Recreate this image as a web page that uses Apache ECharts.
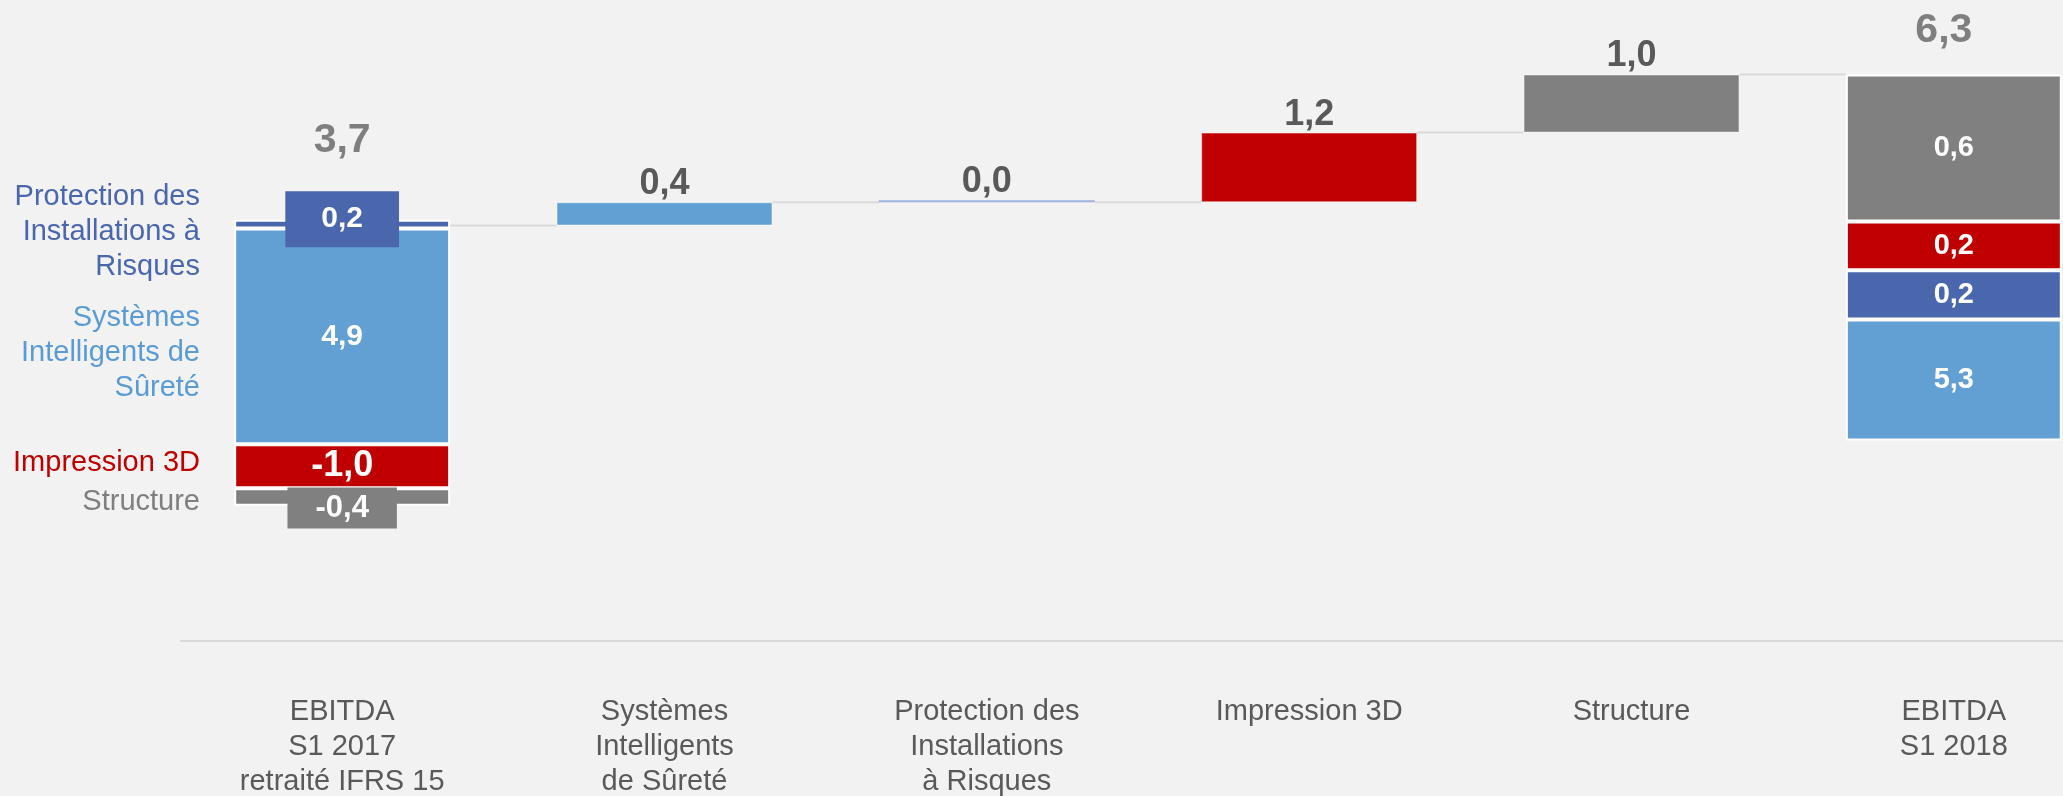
<!DOCTYPE html>
<html>
<head>
<meta charset="utf-8">
<script src="https://cdn.jsdelivr.net/npm/echarts@6/dist/echarts.min.js"></script>
<style>
html, body { margin: 0; padding: 0; background: #f2f2f2; }
#chart { width: 2063px; height: 796px; }
</style>
</head>
<body>
<div id="chart"></div>
<script>
'use strict';

// catégories de l'axe horizontal
const categories = [
    'EBITDA\nS1 2017\nretraité IFRS 15',
    'Systèmes\nIntelligents\nde Sûreté',
    'Protection des\nInstallations\nà Risques',
    'Impression 3D',
    'Structure',
    'EBITDA\nS1 2018'
];

// métiers, dans l'ordre d'empilement (bas -> haut)
const segments = ['Systèmes Intelligents de Sûreté', 'Protection des Installations à Risques', 'Impression 3D', 'Structure'];
const segmentColors = ['#629fd3', '#4a66ad', '#c00000', '#808080'];
const sideLabels = ['Systèmes\nIntelligents de\nSûreté', 'Protection des\nInstallations à\nRisques', 'Impression 3D', 'Structure'];
const sideColors = ['#5b9bd5', '#4a66ad', '#c00000', '#7f7f7f'];

// EBITDA S1 2017 retraité : contribution de chaque métier
const startValues = [4.9, 0.2, -1.0, -0.4];

// variations du pont (SIS, PIR, Impression 3D, Structure)
const deltaValues = [0.4, 0.0, 1.2, 1.0];

// EBITDA S1 2018 : valeurs affichées, et hauteur dessinée (le visuel n'est pas à l'échelle)
const endValues = [5.3, 0.2, 0.2, 0.6];
const endDrawn = [2.08, 0.85, 0.84, 2.53];

const FONT = '"Liberation Sans", Arial, sans-serif';
const fmt = v => (Math.round(v * 10) / 10).toFixed(1).replace('.', ',');
const onlyAt = (index, value) => categories.map((c, i) => i === index ? value : '-');

const startTotal = startValues.reduce((a, b) => a + b, 0);
// niveaux successifs du pont : 3,7 -> 4,1 -> 4,1 -> 5,3 -> 6,3
const levels = deltaValues.reduce((pre, d) => {
    pre.push(pre[pre.length - 1] + d);
    return pre;
}, [startTotal]);
const endTotal = levels[levels.length - 1];

const BAR_W = 0.67;

// styles des étiquettes de la première barre
const startLabelStyles = [
    { fontSize: 30 },
    { fontSize: 30, backgroundColor: '#4a66ad', padding: [13, 36], offset: [0, -5] },
    { fontSize: 36 },
    { fontSize: 31, backgroundColor: '#808080', padding: [5, 28], offset: [0, 11] }
];

const startSeries = segments.map((name, k) => ({
    name: name,
    type: 'bar',
    yAxisIndex: 1,
    stack: 'start',
    barWidth: BAR_W * 100 + '%',
    barGap: '-100%',
    z: (k === 1 || k === 3) ? 4 : 3,
    data: onlyAt(0, startValues[k]),
    itemStyle: { color: segmentColors[k], borderColor: '#ffffff', borderWidth: 2 },
    label: Object.assign({
        show: true,
        position: 'inside',
        color: '#ffffff',
        fontWeight: 'bold',
        fontFamily: FONT,
        formatter: p => fmt(p.value)
    }, startLabelStyles[k])
}));

const endSeries = segments.map((name, k) => ({
    name: name,
    type: 'bar',
    stack: 'end',
    barWidth: BAR_W * 100 + '%',
    barGap: '-100%',
    z: 3,
    data: onlyAt(5, { value: endDrawn[k], shown: endValues[k] }),
    itemStyle: { color: segmentColors[k], borderColor: '#ffffff', borderWidth: 2 },
    label: {
        show: true,
        position: 'inside',
        color: '#ffffff',
        fontWeight: 'bold',
        fontSize: 29,
        fontFamily: FONT,
        formatter: p => fmt(p.data.shown)
    }
}));

const deltaColors = [segmentColors[0], '#9fb3de', segmentColors[2], segmentColors[3]];

const option = {
    backgroundColor: '#f2f2f2',
    animation: false,
    textStyle: { fontFamily: FONT },
    grid: { left: 181, right: -52, top: 0, bottom: 155, containLabel: false, outerBoundsMode: 'none' },
    xAxis: {
        type: 'category',
        data: categories,
        axisLine: { onZero: false, lineStyle: { color: '#d9d9d9', width: 2 } },
        axisTick: { show: false },
        axisLabel: { interval: 0, margin: 53, color: '#595959', fontSize: 29, lineHeight: 35, fontFamily: FONT }
    },
    yAxis: [
        { type: 'value', show: false, min: -3.454, max: 7.583 },
        { type: 'value', show: false, min: -4.473, max: 10.095 }
    ],
    graphic: sideLabels.map((text, k) => ({
        type: 'text',
        x: 200,
        y: [353, 232, 463, 502][k],
        style: {
            text: text,
            fill: sideColors[k],
            font: '29px ' + FONT,
            align: 'right',
            verticalAlign: 'middle',
            lineHeight: 35
        }
    })),
    series: [
        {
            type: 'custom',
            z: 1,
            silent: true,
            data: levels.map((lvl, i) => [i, lvl]),
            encode: { x: 0, y: 1 },
            renderItem: (params, api) => {
                const i = api.value(0);
                const lvl = api.value(1);
                const p0 = api.coord([i, lvl]);
                const p1 = api.coord([i + 1, lvl]);
                const half = api.size([1, 0])[0] * BAR_W / 2;
                return {
                    type: 'line',
                    shape: { x1: p0[0] + half, y1: p0[1], x2: p1[0] - half, y2: p1[1] },
                    style: { stroke: '#d9d9d9', lineWidth: 2 }
                };
            }
        },
        {
            name: 'base',
            type: 'bar',
            stack: 'bridge',
            barWidth: BAR_W * 100 + '%',
            barGap: '-100%',
            silent: true,
            itemStyle: { color: 'transparent' },
            data: ['-'].concat(levels.slice(0, deltaValues.length), ['-'])
        },
        {
            name: 'variation',
            type: 'bar',
            stack: 'bridge',
            barWidth: BAR_W * 100 + '%',
            barGap: '-100%',
            barMinHeight: 2,
            z: 3,
            data: ['-'].concat(deltaValues.map((v, k) => ({
                value: v,
                itemStyle: v === 0
                    ? { color: deltaColors[k], borderWidth: 0 }
                    : { color: deltaColors[k] }
            })), ['-']),
            itemStyle: { borderColor: 'rgba(255,255,255,0.45)', borderWidth: 1 },
            label: {
                show: true,
                position: 'top',
                distance: 0,
                color: '#595959',
                fontWeight: 'bold',
                fontSize: 36,
                lineHeight: 36,
                fontFamily: FONT,
                formatter: p => fmt(p.value)
            }
        }
    ].concat(startSeries, endSeries, [
        {
            name: 'total',
            type: 'scatter',
            symbolSize: 1,
            silent: true,
            itemStyle: { color: 'transparent', opacity: 1 },
            data: categories.map((c, i) => {
                if (i === 0) return { value: startTotal, label: { offset: [0, -85] } };
                if (i === categories.length - 1) return { value: endTotal, label: { offset: [-10, -44] } };
                return '-';
            }),
            label: {
                show: true,
                position: 'inside',
                color: '#7f7f7f',
                fontWeight: 'bold',
                fontSize: 41,
                fontFamily: FONT,
                formatter: p => fmt(p.value)
            }
        }
    ])
};

const myChart = echarts.init(document.getElementById('chart'));
myChart.setOption(option);
</script>
</body>
</html>
